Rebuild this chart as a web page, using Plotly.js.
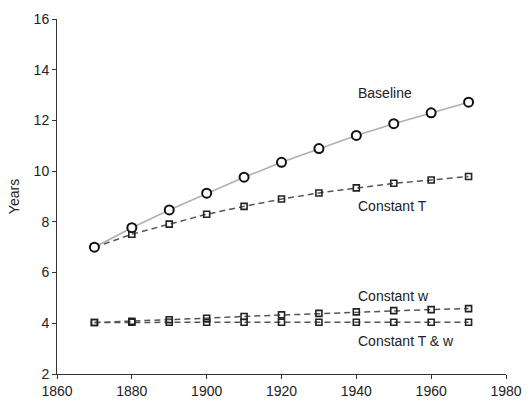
<!DOCTYPE html>
<html>
<head>
<meta charset="utf-8">
<script src="https://cdn.plot.ly/plotly-3.0.1.min.js"></script>
<style>html,body{margin:0;padding:0;background:#fff;}#chart{width:530px;height:401px;}</style>
</head>
<body>
<div id="chart"></div>
<script>
const years = [1870, 1880, 1890, 1900, 1910, 1920, 1930, 1940, 1950, 1960, 1970];
const baseline = [7.0, 7.77, 8.47, 9.13, 9.76, 10.35, 10.89, 11.41, 11.87, 12.30, 12.72];
const constantT = [7.0, 7.51, 7.91, 8.30, 8.61, 8.90, 9.14, 9.34, 9.52, 9.65, 9.79];
const constantW = [4.03, 4.08, 4.14, 4.20, 4.27, 4.33, 4.39, 4.45, 4.50, 4.54, 4.58];
const constantTW = [4.03, 4.04, 4.04, 4.04, 4.04, 4.04, 4.04, 4.04, 4.04, 4.04, 4.04];
const seriesLabels = ["Baseline", "Constant T", "Constant w", "Constant T & w"];
const labelPos = [[1940, 13.07], [1940, 8.64], [1940, 5.08], [1940, 3.3]];
const xTicks = [1860, 1880, 1900, 1920, 1940, 1960, 1980];
const yTicks = [2, 4, 6, 8, 10, 12, 14, 16];

const font = {family: "Liberation Sans, Arial, Helvetica, sans-serif", size: 14, color: "#222"};
const sq = {symbol: "square-open", size: 6, color: "#222", line: {width: 1.6, color: "#222"}};
const dash = {color: "#555", width: 1.5, dash: "6px,4px"};

const traces = [
  {x: years, y: constantTW, mode: "lines+markers", line: dash, marker: sq},
  {x: years, y: constantW, mode: "lines+markers", line: dash, marker: sq},
  {x: years, y: constantT, mode: "lines+markers", line: dash, marker: sq},
  {x: years, y: baseline, mode: "lines+markers", line: {color: "#b0b0b0", width: 1.6},
   marker: {symbol: "circle", size: 9, color: "#fff", line: {width: 2, color: "#111"}}}
];

const annotations = seriesLabels.map((t, i) => ({
  x: labelPos[i][0], y: labelPos[i][1], xref: "x", yref: "y", text: t,
  showarrow: false, xanchor: "left", yanchor: "middle", font: font
}));

const layout = {
  width: 530, height: 401,
  margin: {l: 57, r: 24, t: 19, b: 27},
  paper_bgcolor: "#fff", plot_bgcolor: "#fff",
  showlegend: false,
  font: font,
  xaxis: {range: [1860, 1980], tickvals: xTicks, ticks: "outside", ticklen: 4, tickcolor: "#333",
          showline: true, linecolor: "#333", linewidth: 1, showgrid: false, zeroline: false,
          tickfont: font},
  yaxis: {range: [2, 16], tickvals: yTicks, ticks: "outside", ticklen: 4, tickcolor: "#333",
          showline: true, linecolor: "#333", linewidth: 1, showgrid: false, zeroline: false,
          tickfont: font, title: {text: "Years", font: font, standoff: 10}},
  annotations: annotations
};

Plotly.newPlot("chart", traces, layout, {displayModeBar: false, staticPlot: true});
</script>
</body>
</html>
